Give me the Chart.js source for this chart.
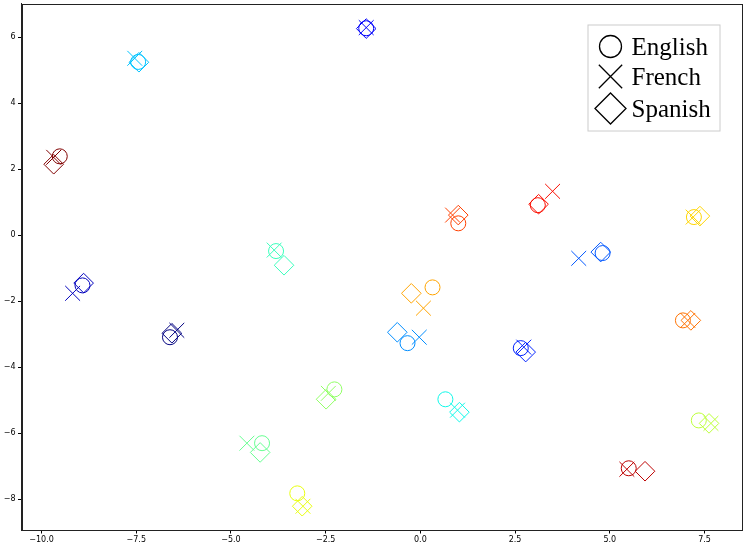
<!DOCTYPE html>
<html>
<head>
<meta charset="utf-8">
<script src="https://cdn.jsdelivr.net/npm/chart.js@4/dist/chart.umd.min.js"></script>
<style>
  body { margin: 0; background: #fff; }
  canvas { display: block; }
</style>
</head>
<body>
<canvas id="chart1" width="747" height="545"></canvas>
<script>
// one entry per word, same order in every list
var enX = [-6.61, -8.92, -1.43, 2.65, 4.81, -0.34, -7.45, 0.66, -3.81, -4.18, -2.27, 7.35, -3.25, 7.22, 0.32, 6.93, 1.00, 3.10, 5.50, -9.52];
var enY = [-3.09, -1.52, 6.27, -3.42, -0.54, -3.27, 5.25, -4.97, -0.48, -6.30, -4.67, -5.61, -7.82, 0.55, -1.58, -2.58, 0.36, 0.91, -7.06, 2.39];
var frX = [-6.43, -9.18, -1.43, 2.73, 4.18, -0.03, -7.54, 0.98, -3.86, -4.58, -2.43, 7.67, -3.10, 7.20, 0.08, 7.06, 0.85, 3.49, 5.45, -9.68];
var frY = [-2.88, -1.76, 6.29, -3.39, -0.70, -3.09, 5.36, -5.30, -0.45, -6.30, -4.79, -5.70, -8.21, 0.55, -2.21, -2.58, 0.61, 1.33, -7.09, 2.36];
var esX = [-6.56, -8.89, -1.43, 2.78, 4.76, -0.61, -7.43, 1.03, -3.60, -4.23, -2.49, 7.62, -3.12, 7.38, -0.24, 7.14, 1.00, 3.12, 5.93, -9.68];
var esY = [-2.97, -1.45, 6.26, -3.54, -0.51, -2.94, 5.24, -5.36, -0.91, -6.58, -4.97, -5.70, -8.21, 0.58, -1.76, -2.58, 0.61, 0.94, -7.15, 2.15];

var languages = ['English', 'French', 'Spanish'];
var xTicks = [-10, -7.5, -5, -2.5, 0, 2.5, 5, 7.5];
var yTicks = [-8, -6, -4, -2, 0, 2, 4, 6];

// matplotlib 'jet' colormap
function jet(t) {
  function seg(pts) {
    for (var i = 1; i < pts.length; i++) {
      if (t <= pts[i][0]) {
        var a = pts[i - 1], b = pts[i];
        return a[1] + (b[1] - a[1]) * (t - a[0]) / (b[0] - a[0]);
      }
    }
    return pts[pts.length - 1][1];
  }
  var r = seg([[0, 0], [0.35, 0], [0.66, 1], [0.89, 1], [1, 0.5]]);
  var g = seg([[0, 0], [0.125, 0], [0.375, 1], [0.64, 1], [0.91, 0], [1, 0]]);
  var b = seg([[0, 0.5], [0.11, 1], [0.34, 1], [0.65, 0], [1, 0]]);
  return 'rgb(' + Math.round(r * 255) + ',' + Math.round(g * 255) + ',' + Math.round(b * 255) + ')';
}

var colors = enX.map(function (_, i) { return jet(i / (enX.length - 1)); });

function pts(xs, ys) {
  return xs.map(function (x, i) { return {x: x, y: ys[i]}; });
}

function minus(s) { return String(s).replace('-', '\u2212'); }

var tickFont = {family: 'DejaVu Sans', size: 8};

var frameAndLegend = {
  id: 'frameAndLegend',
  afterDraw: function (chart) {
    var ctx = chart.ctx, a = chart.chartArea;
    ctx.save();
    ctx.strokeStyle = '#222';
    ctx.lineWidth = 1;
    ctx.strokeRect(Math.round(a.left) + 0.5, Math.round(a.top) + 0.5,
      Math.round(a.right - a.left) - 1, Math.round(a.bottom - a.top) - 1);

    // legend box, upper right
    var bx = a.right - 154.5, by = a.top + 21, bw = 132, bh = 106;
    ctx.fillStyle = 'rgba(255,255,255,0.8)';
    ctx.strokeStyle = '#ccc';
    ctx.fillRect(bx, by, bw, bh);
    ctx.strokeRect(bx + 0.5, by + 0.5, bw, bh);

    var styles = [['circle', 11], ['crossRot', 16.5], ['rectRot', 15.5]];
    var rows = [22, 52, 84];
    ctx.font = '25px "Liberation Serif"';
    ctx.textBaseline = 'alphabetic';
    for (var i = 0; i < languages.length; i++) {
      var cy = by + rows[i];
      ctx.strokeStyle = '#000';
      ctx.fillStyle = 'rgba(0,0,0,0)';
      ctx.lineWidth = 1.3;
      Chart.helpers.drawPoint(ctx, {pointStyle: styles[i][0], radius: styles[i][1], borderWidth: 1.3, rotation: 0}, bx + 23, cy);
      ctx.fillStyle = '#000';
      ctx.fillText(languages[i], bx + 44, cy + 8);
    }
    ctx.restore();
  }
};

function makeSet(label, xs, ys, style, radius) {
  return {
    label: label,
    data: pts(xs, ys),
    pointStyle: style,
    pointRadius: radius,
    pointHoverRadius: radius,
    pointBorderWidth: 1,
    pointBorderColor: colors,
    pointBackgroundColor: 'rgba(0,0,0,0)',
    showLine: false
  };
}

var ctx = document.getElementById('chart1').getContext('2d');
new Chart(ctx, {
  type: 'scatter',
  data: {
    datasets: [
      makeSet(languages[0], enX, enY, 'circle', 7.5),
      makeSet(languages[1], frX, frY, 'crossRot', 10.5),
      makeSet(languages[2], esX, esY, 'rectRot', 9.8)
    ]
  },
  options: {
    responsive: false,
    animation: false,
    devicePixelRatio: 1,
    layout: {autoPadding: false, padding: {left: 0, right: 5, top: 3.5, bottom: 0}},
    plugins: {
      legend: {display: false},
      tooltip: {enabled: false}
    },
    scales: {
      x: {
        type: 'linear',
        min: -10.53,
        max: 8.49,
        afterFit: function (s) { s.height = 15; s.paddingLeft = 0; s.paddingRight = 0; },
        afterBuildTicks: function (s) { s.ticks = xTicks.map(function (v) { return {value: v}; }); },
        ticks: {
          font: tickFont, color: '#000', padding: 1.5, maxRotation: 0, autoSkip: false,
          callback: function (v) { return minus(Number(v).toFixed(1)); }
        },
        grid: {drawOnChartArea: false, tickLength: 3.5, color: '#000'},
        border: {color: '#222'}
      },
      y: {
        type: 'linear',
        min: -8.93,
        max: 7.02,
        afterFit: function (s) { s.width = 21.5; s.paddingTop = 0; s.paddingBottom = 0; },
        afterBuildTicks: function (s) { s.ticks = yTicks.map(function (v) { return {value: v}; }); },
        ticks: {
          font: tickFont, color: '#000', padding: 2.5, autoSkip: false,
          callback: function (v) { return minus(v); }
        },
        grid: {drawOnChartArea: false, tickLength: 3.5, color: '#000'},
        border: {color: '#222'}
      }
    }
  },
  plugins: [frameAndLegend]
});
</script>
</body>
</html>
